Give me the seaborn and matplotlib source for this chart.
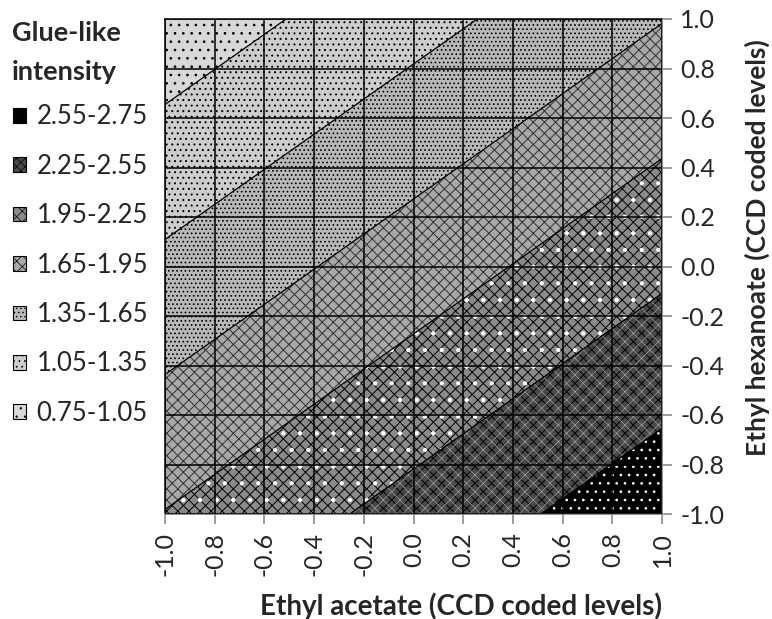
import numpy as np
import matplotlib
matplotlib.use("Agg")
import matplotlib.pyplot as plt
import matplotlib.patches as mpatches
import seaborn as sns

# Coded factor levels and predicted glue-like intensity at those levels
ethyl_acetate = [-1.0, 0.0, 1.0]
ethyl_hexanoate = [-1.0, 0.0, 1.0]
# rows follow ethyl_hexanoate, columns follow ethyl_acetate
intensity = [
    [1.96, 2.35, 2.74],
    [1.41, 1.80, 2.19],
    [0.86, 1.25, 1.64],
]

band_edges = [0.75, 1.05, 1.35, 1.65, 1.95, 2.25, 2.55, 2.75]
band_labels = ["0.75-1.05", "1.05-1.35", "1.35-1.65", "1.65-1.95",
               "1.95-2.25", "2.25-2.55", "2.55-2.75"]
tick_values = [-1.0, -0.8, -0.6, -0.4, -0.2, 0.0, 0.2, 0.4, 0.6, 0.8, 1.0]
tick_labels = ["-1.0", "-0.8", "-0.6", "-0.4", "-0.2", "0.0",
               "0.2", "0.4", "0.6", "0.8", "1.0"]

# pattern fill per band: (face colour, [(hatch, hatch colour), ...])
band_styles = [
    ("#d8d8d8", [("..", "black")]),
    ("#cdcdcd", [("...", "black")]),
    ("#b8b8b8", [("....", "black")]),
    ("#a8a8a8", [("xxx", "#303030")]),
    ("#8a8a8a", [("xxx", "black"), (".", "white")]),
    ("#4a4a4a", [("xxxx", "black"), ("xx", "#9a9a9a")]),
    ("#000000", [("..", "white")]),
]

sns.set_theme(style="white")
plt.rcParams["font.family"] = ["Lato", "DejaVu Sans"]
plt.rcParams["hatch.linewidth"] = 0.7

W, H = 772, 619
fig = plt.figure(figsize=(W / 100, H / 100), dpi=100)
ax = fig.add_axes([165 / W, 1 - 514 / H, 497 / W, 495 / H])

X, Y = np.meshgrid(ethyl_acetate, ethyl_hexanoate)
Z = np.array(intensity)

for lo, hi, (face, hatch_layers) in zip(band_edges[:-1], band_edges[1:], band_styles):
    ax.contourf(X, Y, Z, levels=[lo, hi], colors=[face], zorder=1)
    for hatch, hcol in hatch_layers:
        with plt.rc_context({"hatch.color": hcol, "patch.edgecolor": hcol}):
            ax.contourf(X, Y, Z, levels=[lo, hi], colors="none",
                        hatches=[hatch], zorder=1.1)

ax.contour(X, Y, Z, levels=band_edges[1:-1], colors="black",
           linewidths=0.9, zorder=2)

ax.set_xlim(-1, 1)
ax.set_ylim(-1, 1)
ax.set_xticks(tick_values)
ax.set_yticks(tick_values)
ax.set_xticklabels(tick_labels, rotation=90)
ax.set_yticklabels(tick_labels)
ax.grid(True, color="black", linewidth=1.1)
ax.set_axisbelow(False)

ax.yaxis.tick_right()
ax.yaxis.set_label_position("right")
ax.tick_params(axis="both", which="major", direction="out", length=7,
               width=1.2, color="#8c8c8c", labelsize=18, pad=6)
ax.tick_params(axis="x", bottom=True, top=False)
ax.tick_params(axis="y", right=True, left=False)

for side in ("left", "top"):
    ax.spines[side].set_color("black")
    ax.spines[side].set_linewidth(1.1)
for side in ("bottom", "right"):
    ax.spines[side].set_color("#8c8c8c")
    ax.spines[side].set_linewidth(1.4)

ax.set_xlabel("Ethyl acetate (CCD coded levels)", fontsize=20,
              fontweight="bold", loc="right", labelpad=12)
ax.set_ylabel("Ethyl hexanoate (CCD coded levels)", fontsize=19,
              fontweight="bold")
ax.yaxis.set_label_coords((745 - 165) / 497, 1 - (248 - 19) / 495)

# legend: title lines and one swatch per band, highest band first
fig.text(12 / W, 1 - 33 / H, "Glue-like", fontsize=19.5, fontweight="bold",
         va="center", ha="left")
fig.text(12 / W, 1 - 72 / H, "intensity", fontsize=19.5, fontweight="bold",
         va="center", ha="left")

handles = []
for label, (face, hatch_layers) in zip(band_labels, band_styles):
    hatch = hatch_layers[0][0] if face != "#000000" else None
    handles.append(mpatches.Patch(facecolor=face, edgecolor="black",
                                  linewidth=0.8, hatch=hatch, label=label))
handles = handles[::-1]
with plt.rc_context({"hatch.linewidth": 0.5}):
    fig.legend(handles=handles, loc="upper left",
               bbox_to_anchor=(-2 / W, 1 - 89 / H), frameon=False,
               fontsize=18.5, handlelength=0.5, handleheight=0.5,
               handletextpad=0.4, labelspacing=0.95, borderaxespad=0.2)

fig.savefig("out.png", dpi=100)
